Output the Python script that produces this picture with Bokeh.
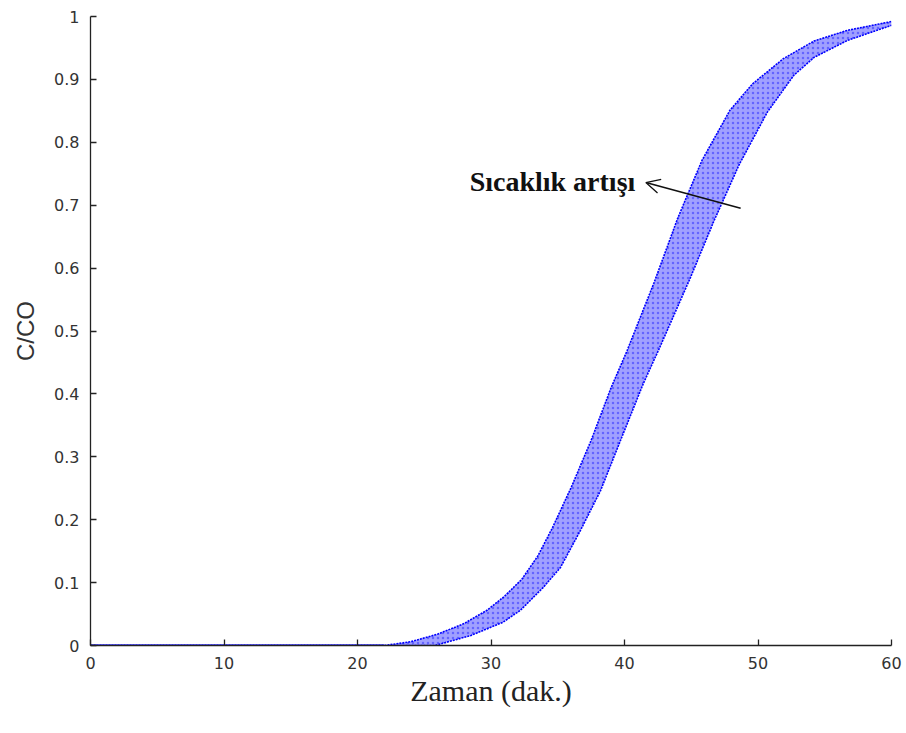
from bokeh.plotting import figure
from bokeh.models import Range1d, FixedTicker, Arrow, OpenHead, Label
from bokeh.embed import file_html
from bokeh.resources import INLINE

# --- data ---
# upper/left edge of the band of breakthrough curves (highest temperature)
x_hi = [0, 22.0, 24.0, 26.0, 28.0, 29.7, 31.0, 32.3, 33.5, 34.6, 36.0, 37.5, 39.0, 40.2,
        42.2, 44.0, 45.8, 47.9, 49.6, 51.9, 54.2, 56.7, 60.0]
y_hi = [0, 0, 0.006, 0.018, 0.035, 0.056, 0.078, 0.105, 0.142, 0.187, 0.251, 0.326, 0.410, 0.469,
        0.576, 0.680, 0.771, 0.851, 0.893, 0.933, 0.961, 0.978, 0.992]
# lower/right edge of the band (lowest temperature)
x_lo = [0, 25.8, 28.5, 30.9, 32.2, 33.9, 35.2, 36.7, 38.2, 39.7, 41.4, 42.6, 44.9, 46.7,
        48.6, 50.7, 52.7, 54.2, 56.7, 60.0]
y_lo = [0, 0, 0.016, 0.037, 0.056, 0.092, 0.124, 0.183, 0.246, 0.326, 0.416, 0.472, 0.583, 0.675,
        0.765, 0.848, 0.907, 0.935, 0.962, 0.986]

x_ticks = [0, 10, 20, 30, 40, 50, 60]
y_ticks = [0, 0.1, 0.2, 0.3, 0.4, 0.5, 0.6, 0.7, 0.8, 0.9, 1]
y_tick_labels = ["0", "0.1", "0.2", "0.3", "0.4", "0.5", "0.6", "0.7", "0.8", "0.9", "1"]

annot_text = "Sıcaklık artışı"
arrow_start = (48.7, 0.695)
arrow_end = (41.6, 0.736)
text_pos = (28.4, 0.738)

p = figure(output_backend="svg", toolbar_location=None,
           frame_width=801, frame_height=629,
           min_border_left=90, min_border_right=12, min_border_top=16, min_border_bottom=80,
           x_range=Range1d(0, 60), y_range=Range1d(0, 1))
p.outline_line_color = None
p.xgrid.visible = False
p.ygrid.visible = False
p.background_fill_color = "white"
p.border_fill_color = "white"

# band: light fill with dotted texture, dark blue edges
bx = x_hi + x_lo[::-1]
by = y_hi + y_lo[::-1]
p.patch(bx, by, fill_color="#a0a0ff", fill_alpha=1.0, line_color=None,
        hatch_pattern="dot", hatch_color="#1a1aff", hatch_scale=5, hatch_alpha=0.45)
p.line(x_hi, y_hi, line_color="#0000ff", line_width=1.6, line_dash="2 1")
p.line(x_lo, y_lo, line_color="#0000ff", line_width=1.6, line_dash="2 1")
p.line([0, 22.0], [0, 0], line_color="#0000ff", line_width=2)

# axes styling (MATLAB-like, inward ticks)
for ax in (p.xaxis[0], p.yaxis[0]):
    ax.axis_line_color = "#222222"
    ax.axis_line_width = 1.3
    ax.major_tick_in = 6
    ax.major_tick_out = 0
    ax.major_tick_line_color = "#222222"
    ax.major_tick_line_width = 1.3
    ax.minor_tick_line_color = None
    ax.major_label_text_font = "DejaVu Sans"
    ax.major_label_text_font_size = "16px"
    ax.major_label_text_color = "#333333"

p.xaxis.ticker = FixedTicker(ticks=x_ticks)
p.yaxis.ticker = FixedTicker(ticks=y_ticks)
p.yaxis.major_label_overrides = {t: l for t, l in zip(y_ticks, y_tick_labels)}
p.xaxis.major_label_standoff = 11
p.yaxis.major_label_standoff = 11

p.xaxis.axis_label = "Zaman (dak.)"
p.xaxis.axis_label_text_font = "Liberation Serif"
p.xaxis.axis_label_text_font_size = "30px"
p.xaxis.axis_label_text_font_style = "normal"
p.xaxis.axis_label_text_color = "#222222"
p.xaxis.axis_label_standoff = 2

p.yaxis.axis_label = "C/CO"
p.yaxis.axis_label_text_font = "Liberation Sans"
p.yaxis.axis_label_text_font_size = "24px"
p.yaxis.axis_label_text_font_style = "normal"
p.yaxis.axis_label_text_color = "#333333"
p.yaxis.axis_label_standoff = 12

p.add_layout(Arrow(end=OpenHead(size=14, line_width=1.3, line_color="#111111"),
                   x_start=arrow_start[0], y_start=arrow_start[1],
                   x_end=arrow_end[0], y_end=arrow_end[1],
                   line_color="#111111", line_width=1.6))
p.add_layout(Label(x=text_pos[0], y=text_pos[1], text=annot_text,
                   text_font="Liberation Serif", text_font_size="28px",
                   text_font_style="bold", text_color="#111111",
                   text_baseline="alphabetic", text_align="left"))

open("out.html", "w").write(file_html(p, INLINE))
